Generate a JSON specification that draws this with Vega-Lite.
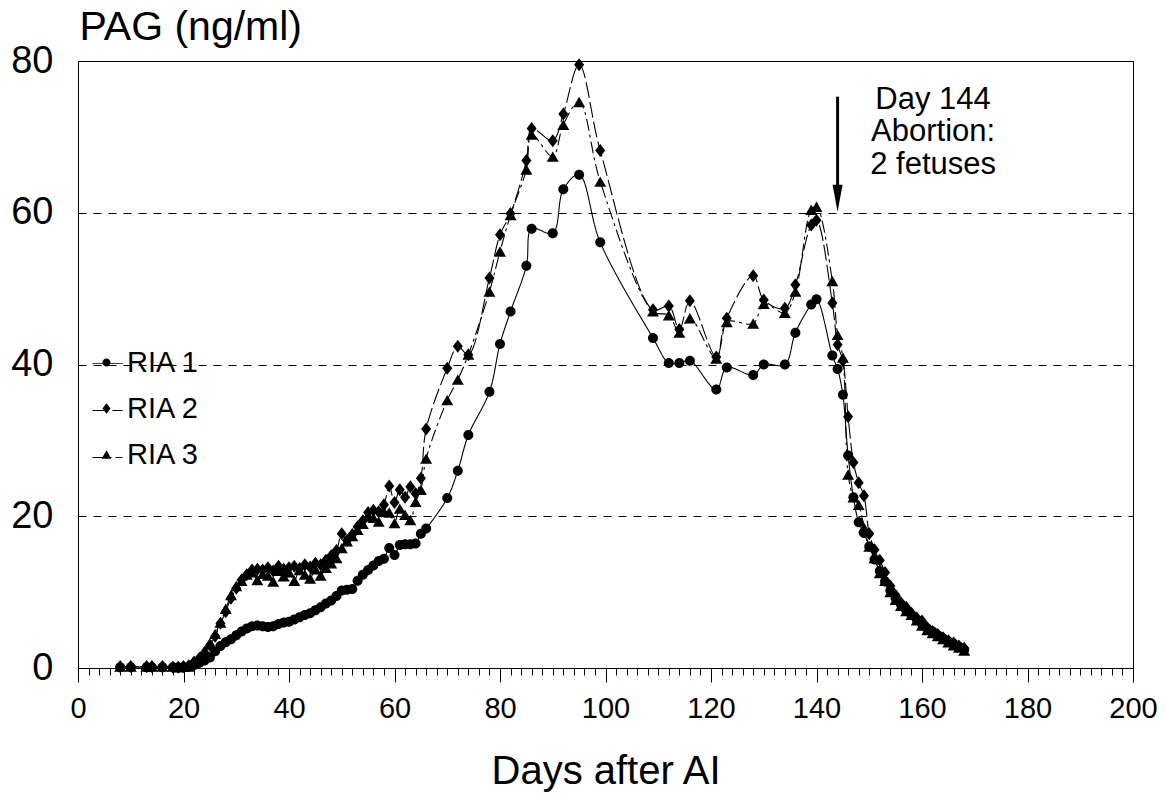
{
  "$schema": "https://vega.github.io/schema/vega-lite/v6.json",
  "width": 1055,
  "height": 607,
  "autosize": {"type": "none"},
  "padding": {"left": 78, "top": 61, "right": 32, "bottom": 131},
  "background": "white",
  "config": {
    "font": "Liberation Sans",
    "view": {"stroke": "black", "strokeWidth": 1},
    "axis": {"labelColor": "black", "titleColor": "black", "domainColor": "black", "tickColor": "black", "labelFont": "Liberation Sans", "titleFont": "Liberation Sans"},
    "legend": {"labelFont": "Liberation Sans", "labelColor": "black"}
  },
  "datasets": {
    "pag": [
      {"day": 8, "RIA 1": 0.1, "RIA 2": 0.2, "RIA 3": 0.2},
      {"day": 10, "RIA 1": 0.1, "RIA 2": 0.2, "RIA 3": 0.2},
      {"day": 13, "RIA 1": 0.1, "RIA 2": 0.2, "RIA 3": 0.2},
      {"day": 14, "RIA 1": 0.1, "RIA 2": 0.2, "RIA 3": 0.2},
      {"day": 16, "RIA 1": 0.1, "RIA 2": 0.2, "RIA 3": 0.2},
      {"day": 18, "RIA 1": 0.1, "RIA 2": 0.1, "RIA 3": 0.2},
      {"day": 19, "RIA 1": 0.1, "RIA 2": 0.1, "RIA 3": 0.1},
      {"day": 20, "RIA 1": 0.1, "RIA 2": 0.2, "RIA 3": 0.2},
      {"day": 21, "RIA 1": 0.2, "RIA 2": 0.3, "RIA 3": 0.2},
      {"day": 22, "RIA 1": 0.4, "RIA 2": 0.8, "RIA 3": 0.6},
      {"day": 23, "RIA 1": 0.7, "RIA 2": 1.3, "RIA 3": 1.2},
      {"day": 24, "RIA 1": 1.0, "RIA 2": 2.0, "RIA 3": 2.2},
      {"day": 25, "RIA 1": 1.4, "RIA 2": 3.0, "RIA 3": 3.2},
      {"day": 26, "RIA 1": 2.2, "RIA 2": 4.2, "RIA 3": 4.5},
      {"day": 27, "RIA 1": 2.9, "RIA 2": 5.9, "RIA 3": 6.0},
      {"day": 28, "RIA 1": 3.4, "RIA 2": 7.4, "RIA 3": 7.8},
      {"day": 29, "RIA 1": 3.8, "RIA 2": 9.2, "RIA 3": 9.6},
      {"day": 30, "RIA 1": 4.3, "RIA 2": 10.5, "RIA 3": 10.8},
      {"day": 31, "RIA 1": 4.8, "RIA 2": 11.6, "RIA 3": 11.5},
      {"day": 32, "RIA 1": 5.2, "RIA 2": 12.3, "RIA 3": 12.3},
      {"day": 33, "RIA 1": 5.5, "RIA 2": 12.9, "RIA 3": 12.6},
      {"day": 34, "RIA 1": 5.6, "RIA 2": 13.0, "RIA 3": 11.6},
      {"day": 35, "RIA 1": 5.5, "RIA 2": 12.9, "RIA 3": 12.4},
      {"day": 36, "RIA 1": 5.4, "RIA 2": 13.2, "RIA 3": 12.2},
      {"day": 37, "RIA 1": 5.5, "RIA 2": 12.8, "RIA 3": 11.4},
      {"day": 38, "RIA 1": 5.8, "RIA 2": 13.4, "RIA 3": 12.8},
      {"day": 39, "RIA 1": 6.0, "RIA 2": 13.0, "RIA 3": 12.1},
      {"day": 40, "RIA 1": 6.1, "RIA 2": 13.2, "RIA 3": 12.6},
      {"day": 41, "RIA 1": 6.4, "RIA 2": 13.4, "RIA 3": 11.5},
      {"day": 42, "RIA 1": 6.7, "RIA 2": 13.1, "RIA 3": 12.9},
      {"day": 43, "RIA 1": 7.0, "RIA 2": 13.6, "RIA 3": 12.3},
      {"day": 44, "RIA 1": 7.2, "RIA 2": 13.3, "RIA 3": 11.8},
      {"day": 45, "RIA 1": 7.6, "RIA 2": 13.8, "RIA 3": 13.0},
      {"day": 46, "RIA 1": 8.0, "RIA 2": 13.6, "RIA 3": 12.2},
      {"day": 47, "RIA 1": 8.5, "RIA 2": 14.2, "RIA 3": 13.2},
      {"day": 48, "RIA 1": 8.9, "RIA 2": 14.8, "RIA 3": 13.8},
      {"day": 49, "RIA 1": 9.5, "RIA 2": 15.5, "RIA 3": 14.5},
      {"day": 50, "RIA 1": 10.2, "RIA 2": 17.7, "RIA 3": 15.8},
      {"day": 51, "RIA 1": 10.3, "RIA 2": 16.8, "RIA 3": 16.7},
      {"day": 52, "RIA 1": 10.4, "RIA 2": 17.6, "RIA 3": 17.4},
      {"day": 53, "RIA 1": 11.5, "RIA 2": 18.6, "RIA 3": 18.2},
      {"day": 54, "RIA 1": 12.3, "RIA 2": 19.4, "RIA 3": 19.0},
      {"day": 55, "RIA 1": 12.9, "RIA 2": 20.5, "RIA 3": 20.0},
      {"day": 56, "RIA 1": 13.5, "RIA 2": 20.8, "RIA 3": 19.8},
      {"day": 57, "RIA 1": 14.1, "RIA 2": 20.6, "RIA 3": 19.3},
      {"day": 58, "RIA 1": 14.4, "RIA 2": 21.5, "RIA 3": 20.6},
      {"day": 59, "RIA 1": 15.8, "RIA 2": 24.0, "RIA 3": 20.5},
      {"day": 60, "RIA 1": 14.9, "RIA 2": 21.8, "RIA 3": 19.1},
      {"day": 61, "RIA 1": 16.2, "RIA 2": 23.5, "RIA 3": 21.0},
      {"day": 62, "RIA 1": 16.3, "RIA 2": 22.5, "RIA 3": 20.2},
      {"day": 63, "RIA 1": 16.3, "RIA 2": 23.9, "RIA 3": 19.5},
      {"day": 64, "RIA 1": 16.4, "RIA 2": 23.0, "RIA 3": 21.9},
      {"day": 65, "RIA 1": 17.7, "RIA 2": 25.0, "RIA 3": 23.5},
      {"day": 66, "RIA 1": 18.4, "RIA 2": 31.5, "RIA 3": 27.6},
      {"day": 70, "RIA 1": 22.4, "RIA 2": 39.5, "RIA 3": 35.3},
      {"day": 72, "RIA 1": 26.0, "RIA 2": 42.4, "RIA 3": 38.0},
      {"day": 74, "RIA 1": 30.7, "RIA 2": 41.3, "RIA 3": 41.3},
      {"day": 78, "RIA 1": 36.4, "RIA 2": 51.4, "RIA 3": 49.6},
      {"day": 80, "RIA 1": 42.7, "RIA 2": 57.1, "RIA 3": 54.9},
      {"day": 82, "RIA 1": 47.0, "RIA 2": 59.9, "RIA 3": 59.7},
      {"day": 85, "RIA 1": 53.0, "RIA 2": 66.9, "RIA 3": 65.7},
      {"day": 86, "RIA 1": 57.9, "RIA 2": 71.1, "RIA 3": 70.3},
      {"day": 90, "RIA 1": 57.3, "RIA 2": 69.5, "RIA 3": 67.4},
      {"day": 92, "RIA 1": 63.1, "RIA 2": 73.0, "RIA 3": 71.6},
      {"day": 95, "RIA 1": 65.0, "RIA 2": 79.5, "RIA 3": 74.6},
      {"day": 99, "RIA 1": 56.1, "RIA 2": 68.2, "RIA 3": 64.1},
      {"day": 109, "RIA 1": 43.5, "RIA 2": 47.2, "RIA 3": 47.0},
      {"day": 112, "RIA 1": 40.2, "RIA 2": 47.7, "RIA 3": 46.5},
      {"day": 114, "RIA 1": 40.2, "RIA 2": 44.6, "RIA 3": 44.2},
      {"day": 116, "RIA 1": 40.5, "RIA 2": 48.4, "RIA 3": 46.1},
      {"day": 121, "RIA 1": 36.7, "RIA 2": 41.0, "RIA 3": 40.8},
      {"day": 123, "RIA 1": 39.6, "RIA 2": 46.1, "RIA 3": 45.6},
      {"day": 128, "RIA 1": 38.6, "RIA 2": 51.7, "RIA 3": 45.4},
      {"day": 130, "RIA 1": 40.0, "RIA 2": 48.5, "RIA 3": 48.0},
      {"day": 134, "RIA 1": 40.0, "RIA 2": 47.4, "RIA 3": 46.8},
      {"day": 136, "RIA 1": 44.2, "RIA 2": 50.5, "RIA 3": 49.6},
      {"day": 139, "RIA 1": 47.9, "RIA 2": 58.4, "RIA 3": 60.4},
      {"day": 140, "RIA 1": 48.6, "RIA 2": 59.0, "RIA 3": 60.8},
      {"day": 143, "RIA 1": 41.2, "RIA 2": 48.1, "RIA 3": 51.0},
      {"day": 144, "RIA 1": 39.4, "RIA 2": 42.6, "RIA 3": 43.9},
      {"day": 145, "RIA 1": 36.0, "RIA 2": 40.5, "RIA 3": 40.9},
      {"day": 146, "RIA 1": 28.0, "RIA 2": 33.1, "RIA 3": 25.5},
      {"day": 147, "RIA 1": 22.5, "RIA 2": 27.1, "RIA 3": 22.5},
      {"day": 148, "RIA 1": 19.2, "RIA 2": 24.4, "RIA 3": 21.5},
      {"day": 149, "RIA 1": 17.8, "RIA 2": 22.7, "RIA 3": 18.5},
      {"day": 150, "RIA 1": 16.0, "RIA 2": 17.7, "RIA 3": 16.0},
      {"day": 151, "RIA 1": 14.3, "RIA 2": 15.6, "RIA 3": 14.5},
      {"day": 152, "RIA 1": 12.8, "RIA 2": 14.2, "RIA 3": 12.5},
      {"day": 153, "RIA 1": 11.4, "RIA 2": 12.6, "RIA 3": 11.5},
      {"day": 154, "RIA 1": 10.2, "RIA 2": 10.8, "RIA 3": 10.0},
      {"day": 155, "RIA 1": 9.2, "RIA 2": 9.6, "RIA 3": 9.0},
      {"day": 156, "RIA 1": 8.4, "RIA 2": 8.6, "RIA 3": 8.2},
      {"day": 157, "RIA 1": 7.6, "RIA 2": 8.0, "RIA 3": 7.5},
      {"day": 158, "RIA 1": 7.0, "RIA 2": 7.2, "RIA 3": 7.0},
      {"day": 159, "RIA 1": 6.4, "RIA 2": 6.6, "RIA 3": 6.3},
      {"day": 160, "RIA 1": 5.8, "RIA 2": 6.2, "RIA 3": 5.6},
      {"day": 161, "RIA 1": 5.2, "RIA 2": 5.3, "RIA 3": 5.0},
      {"day": 162, "RIA 1": 4.8, "RIA 2": 4.8, "RIA 3": 4.6},
      {"day": 163, "RIA 1": 4.3, "RIA 2": 4.4, "RIA 3": 4.2},
      {"day": 164, "RIA 1": 3.9, "RIA 2": 4.0, "RIA 3": 3.8},
      {"day": 165, "RIA 1": 3.5, "RIA 2": 3.6, "RIA 3": 3.4},
      {"day": 166, "RIA 1": 3.2, "RIA 2": 3.3, "RIA 3": 3.0},
      {"day": 167, "RIA 1": 2.8, "RIA 2": 2.9, "RIA 3": 2.7},
      {"day": 168, "RIA 1": 2.4, "RIA 2": 2.6, "RIA 3": 2.3}
    ],
    "note": [{"day": 162.1, "y": 74.9, "label": "Day 144\nAbortion:\n2 fetuses"}],
    "arrow": [{"day": 144, "top": 75.3, "bottom": 62.5, "head": 61.9}]
  },
  "layer": [
    {
      "data": {"name": "pag"},
      "transform": [{"fold": ["RIA 1", "RIA 2", "RIA 3"], "as": ["series", "value"]}],
      "mark": {"type": "line", "interpolate": "catmull-rom", "color": "black", "strokeWidth": 1.1},
      "encoding": {
        "x": {"field": "day", "type": "quantitative", "scale": {"domain": [0, 200], "nice": false, "zero": false},
          "axis": {"orient": "bottom", "values": [0, 20, 40, 60, 80, 100, 120, 140, 160, 180, 200], "tickSize": 14, "labelFontSize": 29, "labelPadding": 12, "labelFlush": false, "labelOverlap": false, "grid": false, "title": "Days after AI", "titleFontSize": 40, "titleFontWeight": "normal", "titlePadding": 28}},
        "y": {"field": "value", "type": "quantitative", "scale": {"domain": [0, 80], "nice": false},
          "axis": {"values": [0, 20, 40, 60, 80], "ticks": false, "labelPadding": 25, "labelFontSize": 38, "labelFlush": false, "grid": true, "gridColor": "black", "gridDash": [8, 7], "gridWidth": 1, "title": "PAG (ng/ml)", "titleAngle": 0, "titleAlign": "left", "titleBaseline": "middle", "titleX": 1, "titleY": -34, "titleFontSize": 41, "titleFontWeight": "normal"}},
        "strokeDash": {"field": "series", "type": "nominal", "scale": {"range": [[1, 0], [16, 4], [12, 4, 3, 4]]},
          "legend": {"orient": "none", "legendX": 14, "legendY": 287, "title": null, "symbolType": "stroke", "symbolSize": 900, "symbolStrokeColor": "black", "symbolStrokeWidth": 1, "labelFontSize": 29, "labelExpr": "''", "rowPadding": 16, "padding": 0,
            "encode": {"symbols": {"update": {"strokeDash": {"value": [1, 0]}}}}}}
      }
    },
    {
      "data": {"name": "pag"},
      "transform": [{"fold": ["RIA 1", "RIA 2", "RIA 3"], "as": ["ria", "level"]}],
      "mark": {"type": "point", "filled": true, "color": "black", "opacity": 1, "size": 169},
      "encoding": {
        "x": {"field": "day", "type": "quantitative", "axis": null},
        "y": {"field": "level", "type": "quantitative"},
        "shape": {"field": "ria", "type": "nominal", "scale": {"domain": ["RIA 1", "RIA 2", "RIA 3"], "range": ["M0.77,0A0.77,0.77 0 1,1 -0.77,0A0.77,0.77 0 1,1 0.77,0Z", "M0,-1L0.77,0L0,1L-0.77,0Z", "M0,-0.8L0.92,0.8L-0.92,0.8Z"]},
          "legend": {"orient": "none", "legendX": 14, "legendY": 287, "title": null, "symbolSize": 110, "symbolFillColor": "black", "symbolStrokeColor": "black", "labelFontSize": 29, "labelOffset": 6, "rowPadding": 16, "padding": 0}}
      }
    },
    {
      "data": {"name": "note"},
      "mark": {"type": "text", "align": "center", "baseline": "middle", "fontSize": 31, "lineBreak": "\n", "lineHeight": 32.5, "color": "black"},
      "encoding": {
        "x": {"field": "day", "type": "quantitative",
          "axis": {"orient": "bottom", "values": [0,2,4,6,8,10,12,14,16,18,20,22,24,26,28,30,32,34,36,38,40,42,44,46,48,50,52,54,56,58,60,62,64,66,68,70,72,74,76,78,80,82,84,86,88,90,92,94,96,98,100,102,104,106,108,110,112,114,116,118,120,122,124,126,128,130,132,134,136,138,140,142,144,146,148,150,152,154,156,158,160,162,164,166,168,170,172,174,176,178,180,182,184,186,188,190,192,194,196,198,200], "tickSize": 7, "labels": false, "domain": false, "grid": false, "title": null}},
        "y": {"field": "y", "type": "quantitative"},
        "text": {"field": "label"}
      }
    },
    {
      "data": {"name": "arrow"},
      "mark": {"type": "rule", "color": "black", "strokeWidth": 3},
      "encoding": {
        "x": {"field": "day", "type": "quantitative", "axis": null},
        "y": {"field": "top", "type": "quantitative"},
        "y2": {"field": "bottom"}
      }
    },
    {
      "data": {"name": "arrow"},
      "mark": {"type": "point", "filled": true, "color": "black", "opacity": 1, "shape": "M-0.37,-1L0.37,-1L0,1Z", "size": 729},
      "encoding": {
        "x": {"field": "day", "type": "quantitative", "axis": null},
        "y": {"field": "head", "type": "quantitative"}
      }
    }
  ],
  "resolve": {"axis": {"x": "independent"}}
}
